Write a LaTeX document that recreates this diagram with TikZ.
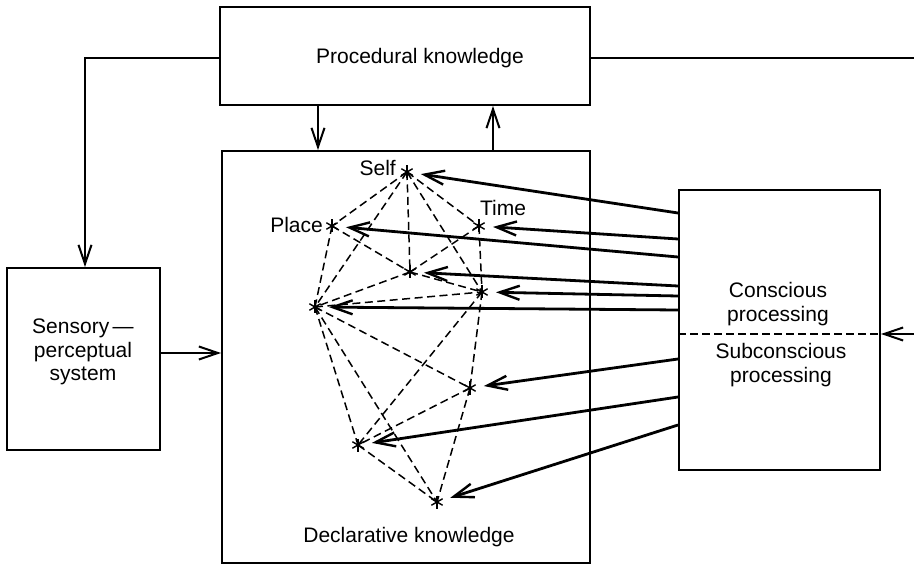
\documentclass[tikz,border=0pt]{standalone}
\usepackage{fontspec}
\setmainfont{Liberation Sans}
\usetikzlibrary{arrows.meta,calc}
\begin{document}
\begin{tikzpicture}[x=1pt,y=-1pt,
  box/.style={draw, line width=2pt, inner sep=0pt},
  flow/.style={line width=2.3pt, -{Straight Barb[length=19pt,width=13pt,line width=2pt]}},
  probe/.style={line width=2.8pt, shorten >=14pt,
    -{Straight Barb[length=20pt,width=14pt,line width=2.4pt]}},
  link/.style={line width=1.5pt, dash pattern=on 8pt off 4.5pt},
  lbl/.style={font=\fontsize{21}{23.5}\selectfont, align=center, inner sep=0pt}
]
\useasboundingbox (0,0) rectangle (914,564);

% main boxes
\node[box, minimum width=370pt, minimum height=98pt] (proc) at (405,56) {};
\node[lbl] (proctext) at (420,58) {Procedural knowledge};
\node[box, minimum width=368pt, minimum height=412pt] (decl) at (406,357) {};
\node[lbl] (decltext) at (409,537) {Declarative knowledge};
\node[box, minimum width=153pt, minimum height=182pt] (sens) at (83.5,359) {};
\node[lbl] (senstext) at (83,352) {Sensory\,---\\perceptual\\system};
\node[box, minimum width=201pt, minimum height=280pt] (cons) at (779.5,330) {};
\node[lbl] (constext) at (778,304) {Conscious\\processing};
\node[lbl] (subtext) at (781,365) {Subconscious\\processing};
\draw[line width=1.6pt, dash pattern=on 8pt off 4pt] (cons.west |- 0,334) -- (cons.east |- 0,334);

% outer connections
\coordinate (edgeR) at (914,58);
\coordinate (edgeR2) at (914,334);
\draw[line width=2.3pt] (proc.east |- 0,58) -- (edgeR);
\draw[flow] (edgeR2) -- (cons.east |- 0,334);
\draw[flow] (proc.west |- 0,58) -| (sens.north -| 85,0);
\draw[flow] (sens.east |- 0,353) -- (decl.west |- 0,353);
\draw[flow] (proc.south -| 318,0) -- (decl.north -| 318,0);
\draw[flow] (decl.north -| 493,0) -- (proc.south -| 493,0);

% concept points
\coordinate (self)   at (407,172);
\coordinate (place)  at (332,226);
\coordinate (time)   at (479,226);
\coordinate (mid)    at (410,272);
\coordinate (rmid)   at (482,292);
\coordinate (left)   at (315,307);
\coordinate (lright) at (470,388);
\coordinate (lleft)  at (358,445);
\coordinate (bot)    at (437,502);

\node[lbl, anchor=east] (selflbl) at (396,168) {Self};
\node[lbl, anchor=east] (placelbl) at (323,225) {Place};
\node[lbl] (timelbl) at (503,208) {Time};

% associations
\foreach \a/\b in {self/place, self/time, self/mid, self/left, self/rmid,
                   place/left, place/mid, time/mid, time/rmid,
                   mid/left, mid/rmid, left/rmid, left/lright, left/lleft, left/bot,
                   rmid/lleft, rmid/lright, lright/lleft, lright/bot, lleft/bot}
  \draw[link] (\a) -- (\b);

\foreach \n in {self,place,time,mid,rmid,left,lright,lleft,bot}
  \foreach \ang in {90,30,150}
    \draw[line width=1.4pt] (\n) ++(\ang:6.5pt) -- ++(\ang+180:13pt);

% processing probes
\draw[probe] (cons.west |- 0,213) -- (self);
\draw[probe] (cons.west |- 0,239) -- (time);
\draw[probe] (cons.west |- 0,257) -- (place);
\draw[probe] (cons.west |- 0,286) -- (mid);
\draw[probe] (cons.west |- 0,296) -- (rmid);
\draw[probe] (cons.west |- 0,310) -- (left);
\draw[probe] (cons.west |- 0,359) -- (lright);
\draw[probe] (cons.west |- 0,397) -- (lleft);
\draw[probe] (cons.west |- 0,425) -- (bot);
\end{tikzpicture}
\end{document}
